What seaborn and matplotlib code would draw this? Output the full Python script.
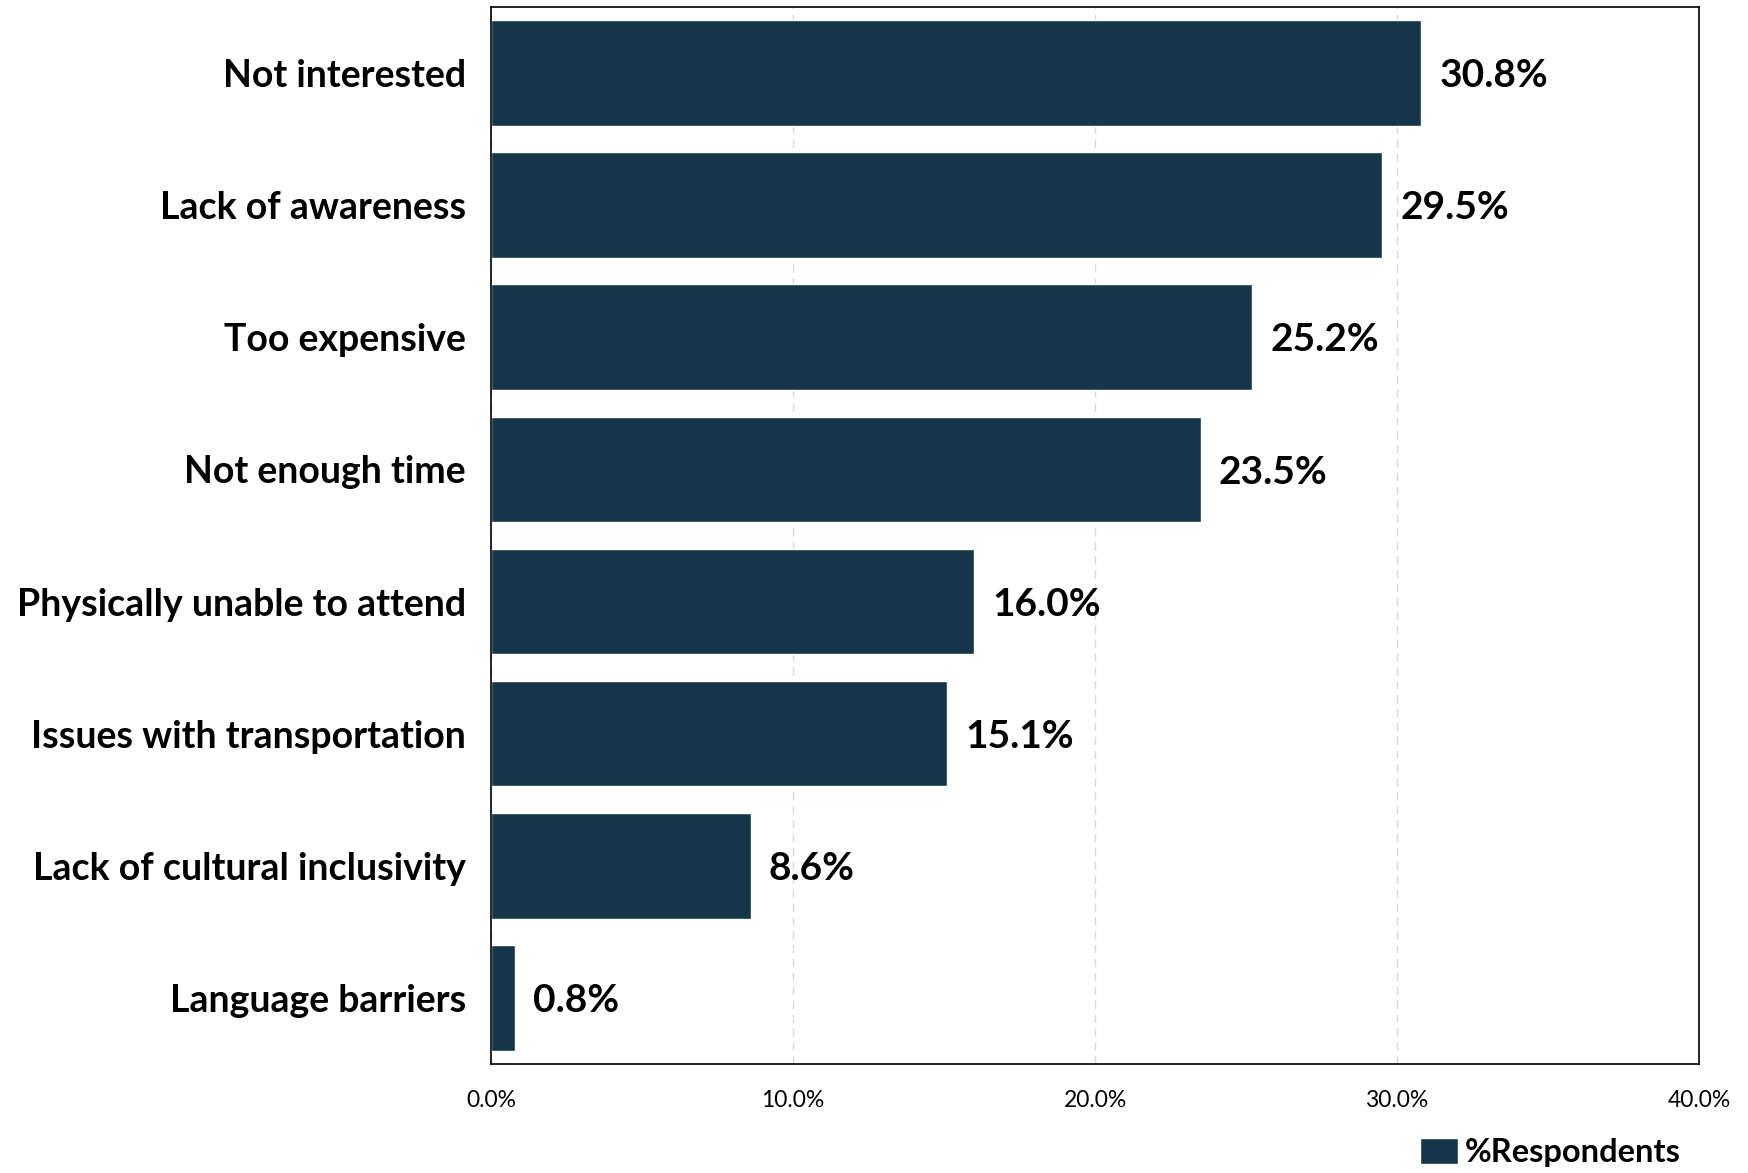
import matplotlib
matplotlib.use("Agg")
import matplotlib.pyplot as plt
import seaborn as sns
import pandas as pd
from matplotlib.ticker import FuncFormatter, MultipleLocator
from matplotlib.patches import Patch

categories = ["Not interested", "Lack of awareness", "Too expensive", "Not enough time",
              "Physically unable to attend", "Issues with transportation",
              "Lack of cultural inclusivity", "Language barriers"]
values = [30.8, 29.5, 25.2, 23.5, 16.0, 15.1, 8.6, 0.8]
series_name = "%Respondents"
bar_color = "#163649"

sns.set_theme(style="white")
plt.rcParams['font.family'] = ['Lato', 'DejaVu Sans']

df = pd.DataFrame({"cat": categories, "val": values})

fig = plt.figure(figsize=(17.48, 11.73), dpi=100)
ax = fig.add_axes([0.2809, 0.093, 0.972 - 0.2809, 0.901])
sns.barplot(data=df, y="cat", x="val", color=bar_color, saturation=1, width=0.8, ax=ax, orient="h")

ax.set_xlim(0, 40)
ax.set_ylim(7.5, -0.5)
ax.xaxis.set_major_locator(MultipleLocator(10))
ax.xaxis.set_major_formatter(FuncFormatter(lambda v, p: f"{v:.1f}%"))
ax.grid(axis="x", color="#d9d9d9", linestyle=(0, (6, 4)), linewidth=1)
ax.set_axisbelow(True)
ax.set_xlabel("")
ax.set_ylabel("")
for s in ax.spines.values():
    s.set_visible(True)
    s.set_color("black")
    s.set_linewidth(1.2)
ax.tick_params(axis="x", labelsize=16.5, pad=19, length=0, labelcolor="black")
ax.tick_params(axis="y", labelsize=27, pad=18, length=0, labelcolor="black")
for lab in ax.get_yticklabels():
    lab.set_fontweight("bold")

for i, v in enumerate(values):
    ax.text(v + 0.6, i + 0.02, f"{v:.1f}%", va="center", ha="left", fontsize=28, fontweight="bold", color="black")

handle = Patch(facecolor=bar_color, label=series_name)
fig.legend(handles=[handle], loc="lower right", bbox_to_anchor=(0.978, -0.02), frameon=False,
           prop={"size": 23.5, "weight": "bold"}, handlelength=1.15, handleheight=0.85, handletextpad=0.2,
           labelcolor="black")

fig.savefig("out.png", dpi=100)
